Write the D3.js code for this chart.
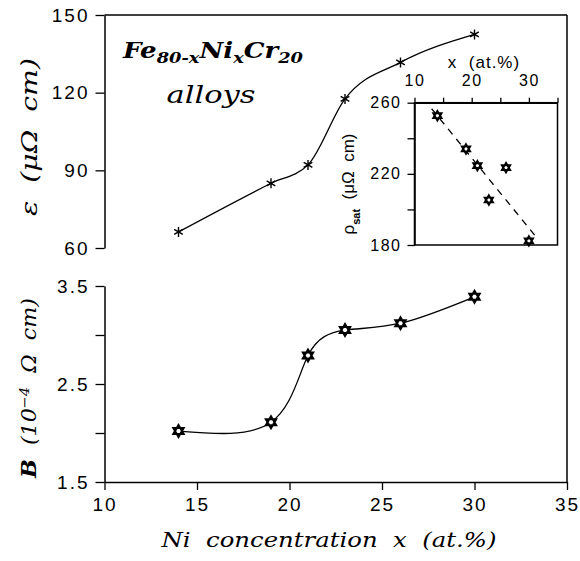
<!DOCTYPE html>
<html><head><meta charset="utf-8">
<script src="https://cdn.jsdelivr.net/npm/d3@7"></script>
<style>
body{margin:0;background:#fff;}
svg{display:block;}
text{white-space:pre;}
.tick text{font-family:"Liberation Sans",Arial,sans-serif;fill:#000;}
</style></head>
<body><svg id="c" width="580" height="561"></svg>
<script>
// ---- data ----
const niConc = [14, 19, 21, 23, 26, 30];
const epsVals = [66.2, 85, 92.1, 117.6, 131.7, 142.5];
const bVals = [2.02, 2.11, 2.79, 3.05, 3.12, 3.39];
const rhoSat = [252.7, 234, 224.6, 205.3, 223.5, 182.3];
const fitX = [13, 31.6];
const fitRho = [256.6, 183.2];
const xTicks = [10, 15, 20, 25, 30, 35];
const epsTicks = [60, 90, 120, 150];
const bTicks = [1.5, 2.0, 2.5, 3.0, 3.5];
const bTickLabels = [1.5, 2.5, 3.5];
const inXTicks = [10, 15, 20, 25, 30, 35];
const inXTickLabels = [10, 20, 30];
const inYTicks = [180, 200, 220, 240, 260];
const inYTickLabels = [180, 220, 260];

const svg = d3.select("#c");
const L = 104.5, R = 567;
const x = d3.scaleLinear().domain([10, 35]).range([L, R]);
const yE = d3.scaleLinear().domain([60, 150]).range([248, 15]);
const yB = d3.scaleLinear().domain([1.5, 3.5]).range([482, 286]);
const xi = d3.scaleLinear().domain([10, 35]).range([414.5, 557.5]);
const yi = d3.scaleLinear().domain([180, 260]).range([245, 102.7]);

function hexPath(r) {
  const p = a => [r * Math.cos(a * Math.PI / 180), r * Math.sin(a * Math.PI / 180)];
  const t1 = [-90, 30, 150].map(p), t2 = [90, 210, 330].map(p);
  const tri = t => "M" + t.map(d => d[0].toFixed(2) + "," + d[1].toFixed(2)).join("L") + "Z";
  return tri(t1) + tri(t2);
}
function starPath(r) {
  let s = "";
  [90, 30, -30].forEach(a => {
    const dx = r * Math.cos(a * Math.PI / 180), dy = r * Math.sin(a * Math.PI / 180);
    s += `M${-dx},${-dy}L${dx},${dy}`;
  });
  return s;
}
function styleAxis(g, fs, ls) {
  g.selectAll(".tick line").attr("stroke", "#000").attr("stroke-width", 1.3);
  g.selectAll(".domain").attr("stroke", "#000").attr("stroke-width", 1.5);
  g.selectAll(".tick text").style("font-size", fs + "px").style("letter-spacing", ls + "px");
}

// frame lines (top and right)
svg.append("line").attr("x1", L).attr("x2", R).attr("y1", 15).attr("y2", 15).attr("stroke", "#000").attr("stroke-width", 1.5);
svg.append("line").attr("x1", R).attr("x2", R).attr("y1", 15).attr("y2", 482).attr("stroke", "#000").attr("stroke-width", 1.5);

// top panel y axis
const gE = svg.append("g").attr("transform", `translate(${L},0)`)
  .call(d3.axisLeft(yE).tickValues(epsTicks).tickSize(9).tickSizeOuter(0).tickPadding(6).tickFormat(d3.format("d")));
styleAxis(gE, 19, 2);

// bottom panel y axis
const gB = svg.append("g").attr("transform", `translate(${L},0)`)
  .call(d3.axisLeft(yB).tickValues(bTicks).tickSize(9).tickSizeOuter(0).tickPadding(6)
    .tickFormat(d => bTickLabels.includes(d) ? d3.format(".1f")(d) : ""));
styleAxis(gB, 19, 2);

// x axis
const gX = svg.append("g").attr("transform", `translate(0,482)`)
  .call(d3.axisBottom(x).tickValues(xTicks).tickSize(8).tickSizeOuter(0).tickPadding(8));
styleAxis(gX, 19, 2);

// top curve
const lineE = d3.line().x((d, i) => x(niConc[i])).y(d => yE(d)).curve(d3.curveMonotoneX);
svg.append("path").attr("d", lineE(epsVals)).attr("fill", "none").attr("stroke", "#000").attr("stroke-width", 1.3);
svg.selectAll(".star").data(epsVals).enter().append("path")
  .attr("transform", (d, i) => `translate(${x(niConc[i])},${yE(d)})`)
  .attr("d", starPath(5)).attr("stroke", "#000").attr("stroke-width", 1.4).attr("fill", "none");

// bottom curve
const lineB = d3.line().x((d, i) => x(niConc[i])).y(d => yB(d)).curve(d3.curveNatural);
svg.append("path").attr("d", lineB(bVals)).attr("fill", "none").attr("stroke", "#000").attr("stroke-width", 1.3);
svg.selectAll(".hexB").data(bVals).enter().append("path")
  .attr("transform", (d, i) => `translate(${x(niConc[i])},${yB(d)})`)
  .attr("d", hexPath(6)).attr("stroke", "#000").attr("stroke-width", 2).attr("fill", "#fff");

// ---- inset ----
svg.append("rect").attr("x", xi(10)).attr("y", yi(260)).attr("width", xi(35) - xi(10)).attr("height", yi(180) - yi(260))
  .attr("fill", "#fff").attr("stroke", "#000").attr("stroke-width", 1.5);
const gIX = svg.append("g").attr("transform", `translate(0,${yi(260)})`)
  .call(d3.axisTop(xi).tickValues(inXTicks).tickSize(5).tickSizeOuter(0).tickPadding(12)
    .tickFormat(d => inXTickLabels.includes(d) ? d : ""));
styleAxis(gIX, 16, 1.5);
const gIY = svg.append("g").attr("transform", `translate(${xi(10)},0)`)
  .call(d3.axisLeft(yi).tickValues(inYTicks).tickSize(7).tickSizeOuter(0).tickPadding(6)
    .tickFormat(d => inYTickLabels.includes(d) ? d : ""));
styleAxis(gIY, 16, 1.5);

const fitLine = d3.line().x((d, i) => xi(fitX[i])).y(d => yi(d));
svg.append("path").attr("d", fitLine(fitRho)).attr("fill", "none").attr("stroke", "#000")
  .attr("stroke-width", 1.3).attr("stroke-dasharray", "7,6");
svg.selectAll(".hexI").data(rhoSat).enter().append("path")
  .attr("transform", (d, i) => `translate(${xi(niConc[i])},${yi(d)})`)
  .attr("d", hexPath(4.8)).attr("stroke", "#000").attr("stroke-width", 1.9).attr("fill", "#fff");

svg.append("text").attr("x", 484).attr("y", 68).attr("text-anchor", "middle")
  .style("font-family", "Liberation Sans, Arial, sans-serif").style("font-size", "17px").style("letter-spacing", "1px")
  .text("x  (at.%)");
const rl = svg.append("text").attr("transform", "translate(354,184) rotate(-90)").attr("text-anchor", "middle")
  .style("font-family", "Liberation Sans, Arial, sans-serif").style("font-size", "17px");
rl.append("tspan").text("ρ");
rl.append("tspan").attr("baseline-shift", "sub").style("font-size", "11px").style("font-weight", "bold").text("sat");
rl.append("tspan").text("  (μΩ  cm)");

// ---- titles ----
const serif = "DejaVu Serif, Liberation Serif, serif";
svg.append("text").attr("transform", "translate(37,137) rotate(-90)").attr("text-anchor", "middle")
  .attr("textLength", 158).attr("lengthAdjust", "spacingAndGlyphs")
  .style("font-family", serif).style("font-style", "italic").style("font-size", "22px")
  .text("ε  (μΩ  cm)");
const bl = svg.append("text").attr("transform", "translate(36,388) rotate(-90)").attr("text-anchor", "middle")
  .attr("textLength", 180).attr("lengthAdjust", "spacingAndGlyphs")
  .style("font-family", serif).style("font-style", "italic").style("font-size", "20px");
bl.append("tspan").style("font-weight", "bold").text("B");
bl.append("tspan").text("  (10");
bl.append("tspan").attr("baseline-shift", "super").style("font-size", "13px").text("−4");
bl.append("tspan").text("  Ω  cm)");

svg.append("text").attr("x", 329).attr("y", 547).attr("text-anchor", "middle")
  .attr("textLength", 335).attr("lengthAdjust", "spacingAndGlyphs")
  .style("font-family", serif).style("font-style", "italic").style("font-size", "21px")
  .text("Ni  concentration  x  (at.%)");

const fe = svg.append("text").attr("x", 213).attr("y", 58).attr("text-anchor", "middle")
  .attr("textLength", 180).attr("lengthAdjust", "spacingAndGlyphs")
  .style("font-family", serif).style("font-style", "italic").style("font-weight", "bold").style("font-size", "22px");
fe.append("tspan").text("Fe");
fe.append("tspan").attr("dy", 5).style("font-size", "15px").text("80-x");
fe.append("tspan").attr("dy", -5).text("Ni");
fe.append("tspan").attr("dy", 5).style("font-size", "15px").text("x");
fe.append("tspan").attr("dy", -5).text("Cr");
fe.append("tspan").attr("dy", 5).style("font-size", "15px").text("20");

svg.append("text").attr("x", 211).attr("y", 103).attr("text-anchor", "middle")
  .attr("textLength", 89).attr("lengthAdjust", "spacingAndGlyphs")
  .style("font-family", serif).style("font-style", "italic").style("font-size", "24px")
  .text("alloys");
</script></body></html>
